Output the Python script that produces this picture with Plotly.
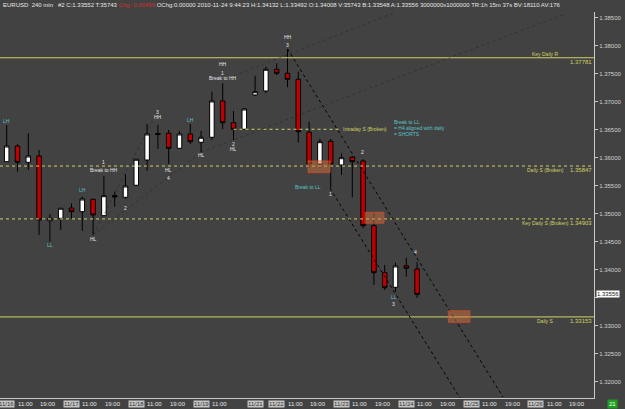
import plotly.graph_objects as go

# ---------------- data (EURUSD, 240 min) ----------------
bar_index = list(range(39))
open_ = [1.35925, 1.36205, 1.35914, 1.36027, 1.34871, 1.34914, 1.35098, 1.35032, 1.35254, 1.34961,
         1.35321, 1.35289, 1.35504, 1.35955, 1.36429, 1.36432, 1.36164, 1.36420, 1.36271, 1.36361,
         1.37009, 1.36621, 1.36504, 1.37116, 1.37188, 1.37575, 1.37504, 1.37396, 1.36450, 1.35884,
         1.36289, 1.35866, 1.36004, 1.35938, 1.34782, 1.33943, 1.33682, 1.34068, 1.34008]
high = [1.36580, 1.36241, 1.36432, 1.36134, 1.34991, 1.35098, 1.35182, 1.35300, 1.35259, 1.35670,
        1.35389, 1.35705, 1.35973, 1.36598, 1.36580, 1.36491, 1.36473, 1.36598, 1.36479, 1.37175,
        1.37325, 1.36830, 1.36884, 1.37461, 1.37621, 1.37682, 1.37938, 1.37532, 1.36639, 1.36330,
        1.36330, 1.36075, 1.36027, 1.35968, 1.35014, 1.34080, 1.34121, 1.34211, 1.34132]
low = [1.35920, 1.35746, 1.35777, 1.34616, 1.34496, 1.34705, 1.34914, 1.34688, 1.34616, 1.34955,
       1.35121, 1.35264, 1.35491, 1.35764, 1.36152, 1.35884, 1.36152, 1.36236, 1.36093, 1.36313,
       1.36504, 1.36313, 1.36491, 1.37098, 1.37146, 1.37473, 1.37254, 1.36264, 1.35813, 1.35807,
       1.35450, 1.35688, 1.35289, 1.34736, 1.33723, 1.33634, 1.33604, 1.33871, 1.33492]
close = [1.36205, 1.35914, 1.36027, 1.34884, 1.34914, 1.35093, 1.35032, 1.35259, 1.34973, 1.35318,
         1.35295, 1.35491, 1.35968, 1.36420, 1.36411, 1.36164, 1.36420, 1.36282, 1.36361, 1.37009,
         1.36621, 1.36504, 1.36866, 1.37175, 1.37575, 1.37504, 1.37396, 1.36461, 1.35884, 1.36282,
         1.35884, 1.35996, 1.35925, 1.34782, 1.33943, 1.33675, 1.34063, 1.34021, 1.33556]

# support / resistance levels
level_names = ["Key Daily R", "Daily S (Broken)", "Key Daily S (Broken)", "Daily S"]
level_values = [1.37781, 1.35847, 1.34903, 1.33153]
level_dashed = [False, True, True, False]
level_label_above = [True, False, False, False]
intraday_level = 1.36504
intraday_span = [21, 31.0]

# price axis
price_ticks = [1.385, 1.380, 1.375, 1.370, 1.365, 1.360, 1.355, 1.350,
               1.345, 1.340, 1.335, 1.330, 1.325, 1.320]
current_price = 1.33556

# time axis
day_labels = ["11/16", "11/17", "11/18", "11/19", "11/21", "11/22", "11/23", "11/24", "11/25", "11/26"]
day_starts = [0, 6, 12, 18, 23, 25, 31, 37, 43, 49]
time_label_days = [0, 6, 12, 18, 25, 31, 37, 43, 49]

# trend lines: (x0, p0, x1, p1)
dark_trends = [(26, 1.37938, 45.95, 1.31723), (29.94, 1.35450, 41.97, 1.31705)]
faint_trends = [(8, 1.34616, 13.5, 1.36650), (8, 1.34616, 18, 1.36093),
                (18, 1.36093, 51.5, 1.38549), (20, 1.37384, 36, 1.38590)]

# highlight boxes: (x0, x1, p0, p1)
zones = [(27.9, 29.95, 1.35729, 1.35938), (33.18, 34.94, 1.34825, 1.35022),
         (40.89, 42.9, 1.33057, 1.33264)]

# swing labels: (text, x, price, kind)
swing_labels = [
    ("LH", 0, 1.36652, "c"), ("LL", 4, 1.34437, "c"), ("LH", 7, 1.35420, "c"),
    ("HL", 8, 1.34545, "w"), ("1", 9, 1.35925, "w"), ("Break to HH", 9, 1.35768, "w"),
    ("2", 11, 1.35104, "w"), ("3", 14, 1.36818, "w"), ("HH", 14, 1.36729, "w"),
    ("HL", 15, 1.35777, "w"), ("4", 15, 1.35629, "w"), ("LH", 17, 1.36670, "c"),
    ("HL", 18, 1.36045, "w"), ("HH", 20, 1.37670, "w"), ("1", 20, 1.37514, "w"),
    ("Break to HH", 20, 1.37425, "w"), ("2", 21, 1.36241, "w"), ("HL", 21, 1.36146, "w"),
    ("HH", 26, 1.38146, "w"), ("3", 26, 1.38009, "w"),
    ("Break to LL", 27.93, 1.35479, "c"), ("1", 29.94, 1.35348, "w"),
    ("2", 32.9, 1.36098, "w"), ("LL", 35.86, 1.33514, "c"), ("3", 35.86, 1.33384, "w"),
    ("4", 37.87, 1.34318, "w"),
]
note_lines = ["Break to LL", "= H4 aligned with daily", "= SHORTS"]
note_prices = [1.36639, 1.36521, 1.36420]
note_x = 35.74

# ---------------- figure ----------------
BG = "#424242"
YEL = "#d2d264"
CYAN = "#5cc4c8"
WHITE = "#e6e6e6"
AXC = "#c8c8c8"
FONT = "Liberation Sans"

fig = go.Figure()
fig.add_trace(go.Candlestick(
    x=bar_index, open=open_, high=high, low=low, close=close,
    increasing=dict(fillcolor="#ffffff", line=dict(color="#000000", width=1)),
    decreasing=dict(fillcolor="#c00000", line=dict(color="#000000", width=1)),
    whiskerwidth=0, hoverinfo="skip", showlegend=False))

shapes = []
for v, d in zip(level_values, level_dashed):
    shapes.append(dict(type="line", xref="paper", yref="y", x0=0, x1=1, y0=v, y1=v,
                       line=dict(color=YEL, width=1, dash="dot" if d else "solid")))
shapes.append(dict(type="line", xref="x", yref="y", x0=intraday_span[0], x1=intraday_span[1],
                   y0=intraday_level, y1=intraday_level,
                   line=dict(color=YEL, width=1, dash="dot")))
for x0, p0, x1, p1 in faint_trends:
    shapes.append(dict(type="line", xref="x", yref="y", x0=x0, y0=p0, x1=x1, y1=p1,
                       line=dict(color="rgba(20,20,20,0.35)", width=1, dash="dot")))
for x0, p0, x1, p1 in dark_trends:
    shapes.append(dict(type="line", xref="x", yref="y", x0=x0, y0=p0, x1=x1, y1=p1,
                       line=dict(color="#000000", width=1, dash="dot")))
for x0, x1, p0, p1 in zones:
    shapes.append(dict(type="rect", xref="x", yref="y", x0=x0, x1=x1, y0=p0, y1=p1,
                       fillcolor="rgba(225,120,60,0.45)",
                       line=dict(color="rgba(215,75,40,0.75)", width=1)))

ann = []
# header
hdr = ("EURUSD&nbsp;&nbsp;240 min&nbsp;&nbsp;&nbsp;#2 C:1.33552 T:35743 "
       "<span style='color:#d03030'>Chg:-0.00456</span> OChg:0.00000 2010-11-24 9:44:23 "
       "H:1.34132 L:1.33492 O:1.34008 V:35743 B:1.33548 A:1.33556 3000000x1000000 "
       "TR:1h 15m 37s BV:18110 AV:176")
ann.append(dict(text=hdr, xref="paper", yref="paper", x=0.002, y=1.017, xanchor="left",
                yanchor="middle", showarrow=False, font=dict(family=FONT, size=6, color=WHITE)))

# level labels
for name, v, above in zip(level_names, level_values, level_label_above):
    ann.append(dict(text=name, xref="x", yref="y", x=49.9, y=v, xanchor="center",
                    yanchor="bottom" if above else "top", showarrow=False,
                    font=dict(family=FONT, size=5, color=YEL), borderpad=0))
    ann.append(dict(text=f"{v:.5f}", xref="paper", yref="y", x=0.998, y=v, xanchor="right",
                    yanchor="top", showarrow=False, borderpad=0,
                    font=dict(family=FONT, size=6, color=YEL)))
ann.append(dict(text="Intraday S (Broken)", xref="x", yref="y", x=intraday_span[1], y=intraday_level,
                xanchor="left", yanchor="middle", showarrow=False, borderpad=0,
                font=dict(family=FONT, size=5, color=YEL)))

for t, x, p, k in swing_labels:
    ann.append(dict(text=t, xref="x", yref="y", x=x, y=p, xanchor="center", yanchor="middle",
                    showarrow=False, borderpad=0,
                    font=dict(family=FONT, size=5, color=CYAN if k == "c" else WHITE)))
for t, p in zip(note_lines, note_prices):
    ann.append(dict(text=t, xref="x", yref="y", x=note_x, y=p, xanchor="left", yanchor="middle",
                    showarrow=False, borderpad=0, font=dict(family=FONT, size=5, color=CYAN)))

# current price box (covers the 1.33500 tick label, as in the original)
ann.append(dict(text=f"{current_price:.5f}", xref="paper", yref="y", x=1.004, y=current_price,
                xanchor="left", yanchor="middle", showarrow=False, bgcolor="#ffffff",
                borderpad=0, font=dict(family=FONT, size=6, color="#202020")))
tick_text = ["" if abs(v - 1.335) < 1e-9 else f"{v:.5f}" for v in price_ticks]

# time axis labels
ylab = -0.0155
for d, s in zip(day_labels, day_starts):
    ann.append(dict(text=d, xref="x", yref="paper", x=s, y=ylab, xanchor="center",
                    yanchor="middle", showarrow=False, bgcolor="#c4c4c4", borderpad=0,
                    font=dict(family=FONT, size=6, color="#303030")))
for s in time_label_days:
    ann.append(dict(text="11:00", xref="x", yref="paper", x=s + 1.7, y=ylab, xanchor="center",
                    yanchor="middle", showarrow=False, font=dict(family=FONT, size=6, color=WHITE)))
    if s != 18:
        ann.append(dict(text="19:00", xref="x", yref="paper", x=s + 3.85, y=ylab, xanchor="center",
                        yanchor="middle", showarrow=False, font=dict(family=FONT, size=6, color=WHITE)))

# small green box bottom right
ann.append(dict(text="21", xref="paper", yref="paper", x=1.031, y=-0.015, xanchor="center",
                yanchor="middle", showarrow=False, bgcolor="#1e9e1e", borderpad=1,
                font=dict(family=FONT, size=6, color="#ffffff")))

fig.update_layout(
    width=625, height=409,
    margin=dict(l=0, r=31, t=12, b=11, autoexpand=False),
    paper_bgcolor=BG, plot_bgcolor=BG, showlegend=False, boxgap=0.4,
    shapes=shapes, annotations=ann,
    xaxis=dict(range=[-0.62, 54.38], showgrid=False, zeroline=False, showticklabels=False,
               showline=True, linecolor=AXC, linewidth=1, rangeslider=dict(visible=False),
               fixedrange=True),
    yaxis=dict(range=[1.31705, 1.38598], side="right", showgrid=False, zeroline=False,
               tickvals=price_ticks, ticktext=tick_text,
               ticks="outside", ticklen=3, tickcolor=AXC, showline=True, linecolor=AXC,
               linewidth=1, tickfont=dict(family=FONT, size=6, color="#d0d0d0"),
               fixedrange=True),
)

fig.write_html("out.html")
